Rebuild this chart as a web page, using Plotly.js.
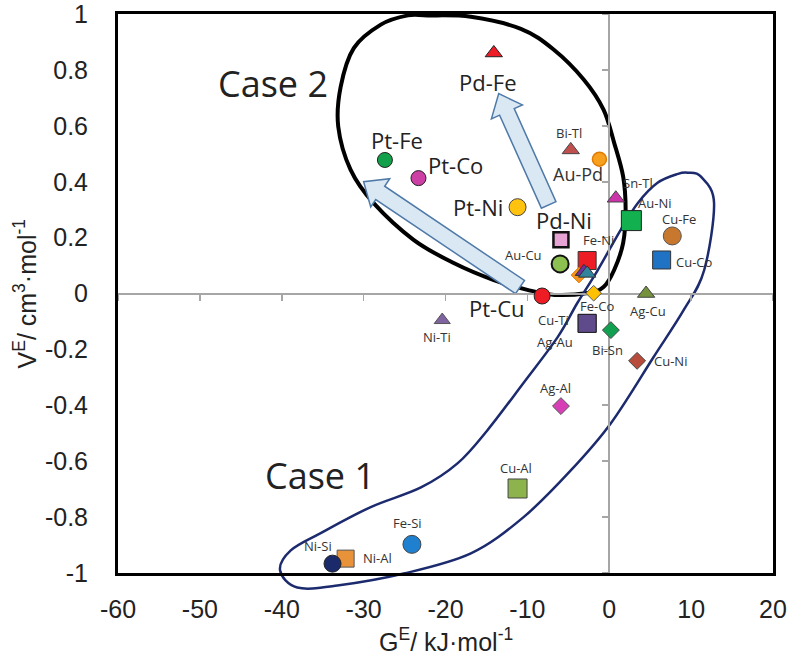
<!DOCTYPE html>
<html><head><meta charset="utf-8">
<script src="https://cdn.plot.ly/plotly-3.0.1.min.js"></script>
<style>body{margin:0;background:#fff}</style>
</head><body><div id="chart" style="width:792px;height:656px"></div>
<script>
// ---- data ----
const systems = ["Pd-Fe","Bi-Tl","Au-Pd","Pt-Fe","Pt-Co","Pt-Ni","Sn-Tl","Au-Ni","Cu-Fe","Cu-Co","Pd-Ni","Au-Cu","Fe-Ni","unlabeled-a","unlabeled-b","unlabeled-c","Pt-Cu","Fe-Co","Ag-Cu","Ni-Ti","Cu-Ti","Ag-Au","Bi-Sn","Cu-Ni","Ag-Al","Cu-Al","Fe-Si","Ni-Al","Ni-Si"];
const gE = [-14.1,-4.7,-1.2,-27.4,-23.3,-11.2,0.8,2.7,7.7,6.4,-5.9,-6.0,-2.7,-3.7,-3.1,-2.7,-8.2,-1.9,4.5,-20.4,-2.7,-2.7,0.2,3.4,-5.9,-11.2,-24.1,-32.2,-33.8];
const vE = [0.861,0.514,0.481,0.478,0.413,0.309,0.341,0.261,0.206,0.120,0.192,0.106,0.118,0.066,0.078,0.072,-0.009,0.001,0.0,-0.095,-0.107,-0.107,-0.131,-0.241,-0.403,-0.698,-0.898,-0.949,-0.967];
const labelText = ["Pd-Fe","Bi-Tl","Au-Pd","Pt-Fe","Pt-Co","Pt-Ni","Sn-Tl","Au-Ni","Cu-Fe","Cu-Co","Pd-Ni","Au-Cu","Fe-Ni","","","","Pt-Cu","Fe-Co","Ag-Cu","Ni-Ti","Cu-Ti","Ag-Au","Bi-Sn","Cu-Ni","Ag-Al","Cu-Al","Fe-Si","Ni-Al","Ni-Si"];
const xTickVals = [-60,-50,-40,-30,-20,-10,0,10,20];
const xTickText = ["-60","-50","-40","-30","-20","-10","0","10","20"];
const yTickVals = [-1,-0.8,-0.6,-0.4,-0.2,0,0.2,0.4,0.6,0.8,1];
const yTickText = ["-1","-0.8","-0.6","-0.4","-0.2","0","0.2","0.4","0.6","0.8","1"];
const xTitle = "G<sup>E</sup>/ kJ·mol<sup>-1</sup>";
const yTitle = "V<sup>E</sup>/ cm<sup>3</sup>·mol<sup>-1</sup>";
const case1Text = "Case 1", case2Text = "Case 2";
// outline of groups (data units)
const case2LoopX = [-22.2,-16.9,-10.8,-6.8,-3.1,-0.7,0.6,1.7,2.0,1.7,0.6,-0.7,-2.6,-6.7,-10.0,-14.1,-19.0,-23.9,-28.8,-31.6,-33.1,-32.8,-31.2,-27.9,-24.6];
const case2LoopY = [0.995,0.99,0.947,0.873,0.765,0.658,0.539,0.418,0.299,0.181,0.084,0.023,0.002,-0.005,0.013,0.048,0.109,0.192,0.324,0.443,0.597,0.740,0.878,0.962,0.995];
const case1LoopX = [9.6,11.2,12.8,11.6,9.1,5.4,0.2,-4.7,-10.5,-16.9,-25.1,-33.2,-38.1,-40.2,-38.9,-35.3,-29.2,-23.0,-18.5,-14.9,-10.5,-6.3,-3.9,-1.4,1.4,3.5,5.9,8.4];
const case1LoopY = [0.432,0.418,0.324,0.084,-0.059,-0.228,-0.464,-0.633,-0.801,-0.930,-1.002,-1.045,-1.052,-0.991,-0.919,-0.858,-0.765,-0.694,-0.607,-0.490,-0.321,-0.156,-0.034,0.084,0.228,0.324,0.396,0.428];
const arrowTailX = [-10.9,-7.4], arrowTailY = [0.023,0.317];
const arrowTipX = [-30.0,-13.5], arrowTipY = [0.40,0.715];

// ---- styles ----
const symbols = ["triangle-up","triangle-up","circle","circle","circle","circle","triangle-up","square","circle","square","square","circle","square","diamond","triangle-up","triangle-up","circle","diamond","triangle-up","triangle-up","square","square","diamond","diamond","diamond","square","circle","square","circle"];
const fills = ["#ee1c25","#c0504d","#f7a01e","#12a04a","#cc3fa5","#ffc20e","#cc33aa","#12b04f","#c8782e","#1f72c4","#e6a3d3","#8cc152","#ee1c25","#f7941d","#7030a0","#31849b","#ee1c25","#ffc000","#76923c","#8064a2","#5f4b8b","#5f4b8b","#10a050","#b84c3c","#d63fb5","#8db34c","#1f80d0","#e8923a","#1b2a6b"];
const sizes = [15,15,14,15,15,17,15,20,18,18,15,17,18,12,15,15,16,12,15,14,18,18,13,13,13,19,18,17,17];
const lineCols = ["#222","#444","#e07a00","#222","#222","#444","#444","#222","#555","#333","#111","#111","#333","#e07a00","#333","#333","#222","#555","#444","#555","#222","#222","#444","#444","#555","#444","#444","#555","#222"];
const lineWs = [1,1,1.5,1,1,1,1,1,1,1,2.5,2,1,1,1,1,1,1,1,1,1,1,1,1,1,1,1,1,1];
const labDx = [-6,-2,-21,12,37,-40,22,23,7,33,3,-37,11,0,0,0,-45,3,2,-5,-34,-32,-3,33,-5,-2,-4,32,-15];
const labDy = [29,-17,15,-20,-13,0,-15,-18,-17,2,-20,-9,-21,0,0,0,12,13,17,17,-3,19,20,0,-18,-20,-21,-1,-18];
const bigLabels = ["Pd-Fe","Pt-Fe","Pt-Co","Pt-Ni","Pd-Ni","Pt-Cu"];

const X0=-60,X1=20,Y0=-1,Y1=1, W=655, H=559;
function toPaper(x,y){return [(x-X0)/(X1-X0),(y-Y0)/(Y1-Y0)];}
function closedSmoothPath(xs,ys){
  const n=xs.length; const P=xs.map((x,i)=>toPaper(x,ys[i]));
  let d='M'+P[0][0]+','+P[0][1];
  for(let i=0;i<n;i++){
    const p0=P[(i-1+n)%n],p1=P[i],p2=P[(i+1)%n],p3=P[(i+2)%n];
    const c1=[p1[0]+(p2[0]-p0[0])/6,p1[1]+(p2[1]-p0[1])/6];
    const c2=[p2[0]-(p3[0]-p1[0])/6,p2[1]-(p3[1]-p1[1])/6];
    d+=' C'+c1[0]+','+c1[1]+' '+c2[0]+','+c2[1]+' '+p2[0]+','+p2[1];
  }
  return d+' Z';
}
function arrowPath(x0,y0,x1,y1,sw,hw,hl){
  const a=toPaper(x0,y0), b=toPaper(x1,y1);
  const ax=a[0]*W, ay=a[1]*H, bx=b[0]*W, by=b[1]*H;
  const dx=bx-ax, dy=by-ay, L=Math.hypot(dx,dy), ux=dx/L, uy=dy/L, nx=-uy, ny=ux;
  const hx=bx-ux*hl, hy=by-uy*hl;
  const pts=[[ax+nx*sw,ay+ny*sw],[hx+nx*sw,hy+ny*sw],[hx+nx*hw,hy+ny*hw],[bx,by],[hx-nx*hw,hy-ny*hw],[hx-nx*sw,hy-ny*sw],[ax-nx*sw,ay-ny*sw]];
  return 'M'+pts.map(p=>(p[0]/W)+','+(p[1]/H)).join(' L')+' Z';
}

const shapes = [
  {type:'path', xref:'paper', yref:'paper', layer:'below', path:closedSmoothPath(case2LoopX,case2LoopY), line:{color:'#000',width:4}, fillcolor:'rgba(0,0,0,0)'},
  {type:'path', xref:'paper', yref:'paper', layer:'below', path:closedSmoothPath(case1LoopX,case1LoopY), line:{color:'#1c2a6e',width:2.5}, fillcolor:'rgba(0,0,0,0)'}
];
for(let i=0;i<arrowTailX.length;i++){
  shapes.push({type:'path', xref:'paper', yref:'paper', layer:'below',
    path:arrowPath(arrowTailX[i],arrowTailY[i],arrowTipX[i],arrowTipY[i],8,17,20),
    line:{color:'#4f7aa8',width:1.5}, fillcolor:'#dae8f4'});
}

const annotations = [];
for(let i=0;i<systems.length;i++){
  if(!labelText[i]) continue;
  const big = bigLabels.includes(labelText[i]);
  const sz = big ? 22 : (labelText[i]==='Au-Pd' ? 18 : 13);
  annotations.push({x:gE[i], y:vE[i], xref:'x', yref:'y', text:labelText[i], showarrow:false,
    xshift:labDx[i], yshift:-labDy[i], font:{family:'Open Sans, sans-serif', size:sz, color: big?'#222':'#333'}});
}
annotations.push({x:-41.1, y:0.751, xref:'x', yref:'y', text:case2Text, showarrow:false, font:{family:'Open Sans, sans-serif', size:36, color:'#222'}});
annotations.push({x:-35.3, y:-0.651, xref:'x', yref:'y', text:case1Text, showarrow:false, font:{family:'Open Sans, sans-serif', size:36, color:'#222'}});
annotations.push({x:0.5, y:-0.12, xref:'paper', yref:'paper', text:xTitle, showarrow:false, xanchor:'center', yanchor:'middle', font:{family:'Liberation Sans, Arial, sans-serif', size:25, color:'#222'}});
annotations.push({x:-0.142, y:0.5, xref:'paper', yref:'paper', text:yTitle, showarrow:false, textangle:-90, xanchor:'center', yanchor:'middle', font:{family:'Liberation Sans, Arial, sans-serif', size:25, color:'#222'}});

const traces = [
  {type:'scatter', mode:'markers', x:gE, y:vE, text:systems, hoverinfo:'text',
   marker:{symbol:symbols, color:fills, size:sizes, opacity:1, line:{color:lineCols, width:lineWs}}, showlegend:false, cliponaxis:false},
  {type:'scatter', x:[], y:[], xaxis:'x2', yaxis:'y', showlegend:false},
  {type:'scatter', x:[], y:[], xaxis:'x', yaxis:'y2', showlegend:false}
];

const tickFont = {family:'Liberation Sans, Arial, sans-serif', size:25, color:'#222'};
const layout = {
  width:792, height:656,
  margin:{l:118, r:19, t:14, b:83},
  paper_bgcolor:'#fff', plot_bgcolor:'rgba(0,0,0,0)',
  showlegend:false,
  xaxis:{range:[X0,X1], tickvals:xTickVals, ticktext:xTickText, showgrid:false, zeroline:false, ticklabeloverflow:'allow',
    showline:true, linecolor:'#000', linewidth:3, mirror:true, ticks:'outside', ticklen:12, tickcolor:'rgba(0,0,0,0)', tickfont:tickFont},
  yaxis:{range:[Y0-0.0005,Y1+0.0005], tickvals:yTickVals, ticktext:yTickText, showgrid:false, zeroline:false, ticklabeloverflow:'allow',
    showline:true, linecolor:'#000', linewidth:3, mirror:true, ticks:'outside', ticklen:22, tickcolor:'rgba(0,0,0,0)', tickfont:tickFont},
  xaxis2:{overlaying:'x', anchor:'free', position:0.5, range:[X0,X1], tickvals:xTickVals, showticklabels:false,
    showgrid:false, zeroline:false, showline:true, linecolor:'#a6a6a6', linewidth:2, ticks:'outside', ticklen:6, tickwidth:1.5, tickcolor:'#a6a6a6', layer:'below traces'},
  yaxis2:{overlaying:'y', anchor:'free', position:0.75, side:'left', range:[Y0-0.0005,Y1+0.0005], tickvals:yTickVals, showticklabels:false,
    showgrid:false, zeroline:false, showline:true, linecolor:'#a6a6a6', linewidth:2, ticks:'outside', ticklen:6, tickwidth:1.5, tickcolor:'#a6a6a6', layer:'below traces'},
  shapes:shapes,
  annotations:annotations
};
Plotly.newPlot('chart', traces, layout, {displayModeBar:false, staticPlot:true});
</script>
</body></html>
